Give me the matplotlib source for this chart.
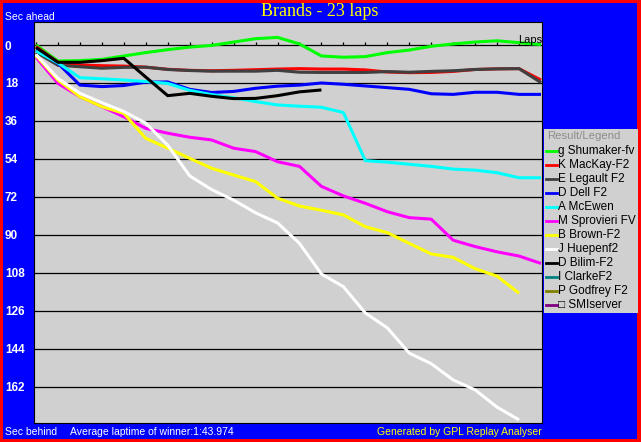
import numpy as np
import matplotlib
matplotlib.use("Agg")
from matplotlib import pyplot as plt
from matplotlib.lines import Line2D
from matplotlib.patches import Rectangle

# seconds behind reference, one value per lap
laps = np.arange(0, 24)

shumaker = [0, 7.6, 7.4, 6.8, 5.2, 3.6, 2.2, 1.0, 0.2, -1.4, -3.0, -3.6, -0.5,
            5.2, 5.8, 5.5, 3.6, 2.4, 0.6, -0.5, -1.4, -2.0, -1.1, -0.2]
mackay = [0.7, 8.2, 9.5, 9.8, 10.0, 10.5, 11.5, 12.0, 12.2, 12.0, 11.7, 11.4, 11.2,
          11.4, 11.4, 11.8, 12.8, 13.1, 13.0, 12.5, 11.6, 11.3, 11.2, 16.6]
legault = [3.4, 9.6, 10.3, 11.0, 10.6, 10.5, 11.6, 12.1, 12.4, 12.4, 12.4, 12.0, 12.9,
           13.0, 13.0, 13.0, 12.6, 12.9, 12.5, 12.2, 11.6, 11.3, 11.2, 17.8]
dell = [2.4, 8.7, 19.0, 19.7, 19.2, 17.6, 17.5, 21.0, 22.5, 22.0, 20.5, 19.5, 19.0,
        18.0, 18.6, 19.4, 20.2, 21.0, 23.1, 23.4, 22.4, 22.4, 23.4, 23.4]
mcewen = [2.8, 8.5, 15.5, 16.0, 16.6, 17.3, 18.2, 21.5, 23.5, 25.0, 26.8, 28.4, 29.0,
          29.5, 32.0, 54.8, 55.5, 56.5, 57.5, 58.8, 59.3, 60.5, 62.9, 62.9]
sprovieri = [5.8, 18.2, 24.5, 29.2, 34.0, 39.5, 41.8, 43.7, 45.0, 48.9, 50.5, 55.3, 57.5,
             67.0, 71.5, 75.0, 79.0, 81.8, 82.5, 92.5, 95.5, 98.0, 100.0, 103.5]
brown = [5.0, 16.6, 24.5, 29.2, 32.4, 44.2, 48.9, 53.7, 58.4, 61.6, 64.7, 72.6, 76.3,
         78.3, 80.5, 86.1, 88.9, 94.0, 99.0, 100.6, 106.0, 109.5, 117.6]
huepenf = [4.5, 15.8, 22.9, 27.3, 31.5, 37.0, 47.5, 62.0, 68.5, 73.5, 79.5, 84.3, 94.0,
           108.5, 114.5, 127.0, 134.0, 146.0, 151.0, 158.7, 163.4, 171.6, 177.6]
bilim = [1.2, 8.2, 8.2, 7.4, 6.3, 15.2, 24.0, 22.9, 24.3, 25.4, 25.3, 24.0, 22.2, 21.3]

names = ["g Shumaker-fv", "K MacKay-F2", "E Legault F2", "D Dell F2", "A McEwen",
         "M Sprovieri FV", "B Brown-F2", "J Huepenf2", "D Bilim-F2", "I ClarkeF2",
         "P Godfrey F2", "\u25a1 SMIserver"]
colors = ["#00ff00", "#ff0000", "#404040", "#0000ff", "#00ffff", "#ff00ff",
          "#ffff00", "#ffffff", "#000000", "#008080", "#808000", "#800080"]
series = [shumaker, mackay, legault, dell, mcewen, sprovieri, brown, huepenf, bilim]

yticks = np.arange(0, 163, 18)

W, H = 641, 442


def px(x, y):
    return x / W, 1 - y / H


fig = plt.figure(figsize=(W / 100, H / 100), dpi=100)
fig.patch.set_facecolor("#ff0000")
fig.add_artist(Rectangle((3 / W, 3 / H), 1 - 7 / W, 1 - 6 / H, transform=fig.transFigure,
                         facecolor="#0000ff", edgecolor="none", zorder=0))

ax = fig.add_axes([34 / W, (H - 423) / H, 508 / W, 401 / H])
ax.set_facecolor("#d0d0d0")
ax.set_xlim(-2 / 21.95, 23 + 1 / 21.95)
ax.set_ylim(179.1, -10.9)

for s in ax.spines.values():
    s.set_color("black")
    s.set_linewidth(0.8)

# horizontal lines and lap ticks on the zero line
for v in yticks:
    ax.axhline(v, color="black", lw=0.9, zorder=1)
ax.vlines(laps[:-1], -1.5, 0, color="black", lw=0.9, zorder=1)

for vals, c in zip(series, colors):
    ax.plot(laps[:len(vals)], vals, color=c, lw=2.2, zorder=3, solid_capstyle="butt")

ax.set_xticks([])
ax.set_yticks(yticks)
ax.set_yticklabels([str(v) for v in yticks], color="white", fontweight="bold",
                   fontsize=8.5, family="Liberation Sans", ha="left")
ax.tick_params(axis="y", length=0, pad=21)

ax.text(1.0, 0, "Laps", transform=ax.get_yaxis_transform(), ha="right", va="bottom",
        fontsize=8, family="Liberation Sans", color="black")

fig.text(*px(320, 12), "Brands - 23 laps", color="#ffff00", fontsize=13,
         family="Liberation Serif", ha="center", va="center")
fig.text(*px(5, 17), "Sec ahead", color="white", fontsize=7.5,
         family="Liberation Sans", ha="left", va="center")
fig.text(*px(5, 432), "Sec behind", color="white", fontsize=7.5,
         family="Liberation Sans", ha="left", va="center")
fig.text(*px(70, 432), "Average laptime of winner:1:43.974", color="white", fontsize=7.5,
         family="Liberation Sans", ha="left", va="center")
fig.text(*px(542, 432), "Generated by GPL Replay Analyser", color="#ffff00", fontsize=7.5,
         family="Liberation Sans", ha="right", va="center")

# legend box
fig.add_artist(Rectangle(px(544, 313), 94 / W, 184 / H, transform=fig.transFigure,
                         facecolor="#d0d0d0", edgecolor="none", zorder=2))
fig.text(*px(547, 136), "Result/Legend", color="#8c8c8c", fontsize=8.2,
         family="Liberation Sans", ha="left", va="center", zorder=3)
for i, (n, c) in enumerate(zip(names, colors)):
    y = 151 + 14 * i
    fig.add_artist(Line2D([546 / W, 557 / W], [1 - y / H] * 2, transform=fig.transFigure,
                          color=c, lw=2, zorder=3))
    fig.text(*px(558, y), n, color="black", fontsize=8.5, family="Liberation Sans",
             ha="left", va="center", zorder=3)

fig.savefig("out.png", dpi=100, facecolor=fig.get_facecolor())
